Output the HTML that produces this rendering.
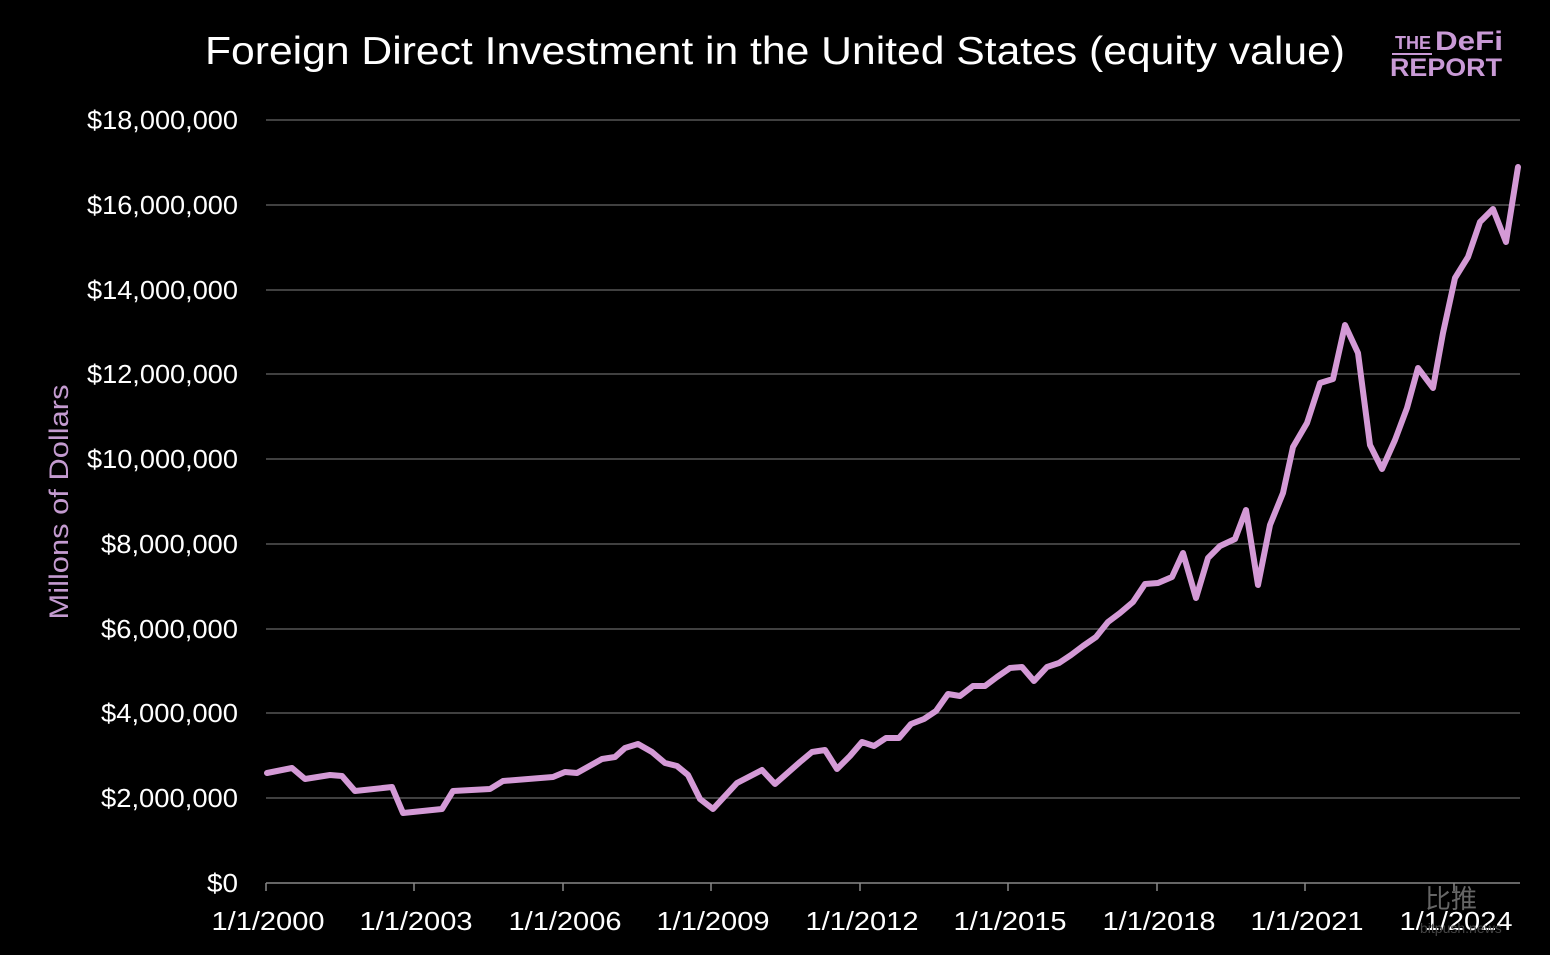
<!DOCTYPE html>
<html><head><meta charset="utf-8"><style>
body{margin:0;background:#000;width:1550px;height:955px;overflow:hidden;font-family:"Liberation Sans","Noto Sans CJK SC",sans-serif;}
</style></head><body>
<svg width="1550" height="955" xmlns="http://www.w3.org/2000/svg" style="display:block">
<rect width="1550" height="955" fill="#000"/>
<text x="205" y="64" fill="#fff" font-size="39" textLength="1140" lengthAdjust="spacingAndGlyphs" font-family="Liberation Sans, sans-serif">Foreign Direct Investment in the United States (equity value)</text>
<g font-family="Liberation Sans, sans-serif" font-weight="bold" fill="#c99ad6">
<text x="1395" y="49" font-size="18" textLength="36" lengthAdjust="spacingAndGlyphs">THE</text>
<line x1="1392" y1="54" x2="1432" y2="54" stroke="#c99ad6" stroke-width="2"/>
<text x="1435" y="50" font-size="27" textLength="68" lengthAdjust="spacingAndGlyphs">DeFi</text>
<text x="1390" y="76" font-size="25" textLength="112" lengthAdjust="spacingAndGlyphs">REPORT</text>
</g>
<g stroke="#555" stroke-width="1.5">
<line x1="266" y1="120" x2="1520" y2="120"/>
<line x1="266" y1="205" x2="1520" y2="205"/>
<line x1="266" y1="290" x2="1520" y2="290"/>
<line x1="266" y1="374" x2="1520" y2="374"/>
<line x1="266" y1="459" x2="1520" y2="459"/>
<line x1="266" y1="544" x2="1520" y2="544"/>
<line x1="266" y1="629" x2="1520" y2="629"/>
<line x1="266" y1="713" x2="1520" y2="713"/>
<line x1="266" y1="798" x2="1520" y2="798"/>
</g>
<g stroke="#888" stroke-width="1.5">
<line x1="266" y1="883" x2="1520" y2="883"/>
<line x1="266" y1="883" x2="266" y2="891"/>
<line x1="414" y1="883" x2="414" y2="891"/>
<line x1="563" y1="883" x2="563" y2="891"/>
<line x1="711" y1="883" x2="711" y2="891"/>
<line x1="860" y1="883" x2="860" y2="891"/>
<line x1="1008" y1="883" x2="1008" y2="891"/>
<line x1="1157" y1="883" x2="1157" y2="891"/>
<line x1="1305" y1="883" x2="1305" y2="891"/>
<line x1="1454" y1="883" x2="1454" y2="891"/>
</g>
<g fill="#fff" font-size="26" text-anchor="end" font-family="Liberation Sans, sans-serif">
<text x="238" y="129" textLength="151" lengthAdjust="spacingAndGlyphs">$18,000,000</text>
<text x="238" y="214" textLength="151" lengthAdjust="spacingAndGlyphs">$16,000,000</text>
<text x="238" y="299" textLength="151" lengthAdjust="spacingAndGlyphs">$14,000,000</text>
<text x="238" y="383" textLength="151" lengthAdjust="spacingAndGlyphs">$12,000,000</text>
<text x="238" y="468" textLength="151" lengthAdjust="spacingAndGlyphs">$10,000,000</text>
<text x="238" y="553" textLength="137" lengthAdjust="spacingAndGlyphs">$8,000,000</text>
<text x="238" y="638" textLength="137" lengthAdjust="spacingAndGlyphs">$6,000,000</text>
<text x="238" y="722" textLength="137" lengthAdjust="spacingAndGlyphs">$4,000,000</text>
<text x="238" y="807" textLength="137" lengthAdjust="spacingAndGlyphs">$2,000,000</text>
<text x="238" y="892" textLength="31" lengthAdjust="spacingAndGlyphs">$0</text>
</g>
<g fill="#fff" font-size="26" text-anchor="middle" font-family="Liberation Sans, sans-serif">
<text x="268" y="930" textLength="113" lengthAdjust="spacingAndGlyphs">1/1/2000</text>
<text x="416" y="930" textLength="113" lengthAdjust="spacingAndGlyphs">1/1/2003</text>
<text x="565" y="930" textLength="113" lengthAdjust="spacingAndGlyphs">1/1/2006</text>
<text x="713" y="930" textLength="113" lengthAdjust="spacingAndGlyphs">1/1/2009</text>
<text x="862" y="930" textLength="113" lengthAdjust="spacingAndGlyphs">1/1/2012</text>
<text x="1010" y="930" textLength="113" lengthAdjust="spacingAndGlyphs">1/1/2015</text>
<text x="1159" y="930" textLength="113" lengthAdjust="spacingAndGlyphs">1/1/2018</text>
<text x="1307" y="930" textLength="113" lengthAdjust="spacingAndGlyphs">1/1/2021</text>
<text x="1456" y="930" textLength="113" lengthAdjust="spacingAndGlyphs">1/1/2024</text>
</g>
<text transform="translate(68,502) rotate(-90)" fill="#c49bd0" font-size="27" text-anchor="middle" textLength="235" lengthAdjust="spacingAndGlyphs" font-family="Liberation Sans, sans-serif">Millons of Dollars</text>
<polyline fill="none" stroke="#d49ad6" stroke-width="6" stroke-linejoin="round" stroke-linecap="round" points="267,773 292,768 305,779 330,775 342,776 355,791 392,787 403,813 442,809 453,791 490,789 503,781 553,777 565,772 577,773 602,759 615,757 625,748 638,744 652,752 665,763 677,766 688,775 700,799 713,809 737,783 762,770 775,784 800,762 812,752 825,750 837,769 850,756 862,742 874,746 886,738 899,738 911,724 924,719 936,711 948,694 960,696 973,686 985,686 997,677 1010,668 1022,667 1034,681 1047,667 1059,663 1071,655 1083,646 1096,637 1108,622 1120,613 1133,602 1145,584 1158,583 1172,577 1183,553 1196,598 1208,558 1220,546 1235,539 1246,510 1258,585 1270,525 1283,493 1293,447 1307,423 1320,383 1333,379 1345,325 1358,353 1370,445 1382,469 1395,440 1407,408 1418,368 1433,388 1443,333 1455,278 1468,257 1480,222 1493,209 1506,242 1518,167"/>
<text x="1425" y="908" fill="#666" font-size="26" font-family="Noto Sans CJK SC, sans-serif">比推</text>
<text x="1420" y="933" fill="#444" font-size="14">bitpush.news</text>
</svg>
</body></html>
